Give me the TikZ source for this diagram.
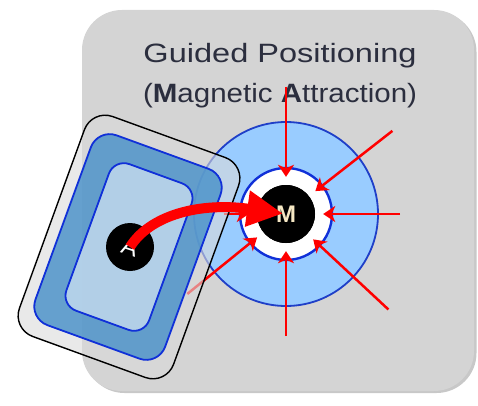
\documentclass[tikz,border=0pt]{standalone}
\usepackage{fontspec}
\setmainfont{Liberation Sans}
\usetikzlibrary{arrows.meta}
\definecolor{panelgray}{HTML}{D4D4D4}
\definecolor{shadowgray}{HTML}{9A9A9A}
\definecolor{zonefill}{HTML}{99CCFF}
\definecolor{zoneedge}{HTML}{1F3FC8}
\definecolor{ringedge}{HTML}{1030D8}
\definecolor{cardgray}{HTML}{DADADA}
\definecolor{cardmid}{HTML}{4E94CA}
\definecolor{cardin}{HTML}{C6DCEF}
\definecolor{titlecol}{HTML}{2B2E3E}
\definecolor{mcol}{HTML}{F6E8C4}
\tikzset{
  panel/.style={fill=panelgray, rounded corners=40pt, minimum width=392pt, minimum height=381pt, inner sep=0pt},
  zone/.style={circle, fill=zonefill, draw=zoneedge, line width=1.8pt, minimum size=184pt, inner sep=0pt},
  ringzone/.style={circle, fill=white, draw=ringedge, line width=2.4pt, minimum size=92pt, inner sep=0pt},
  magnetdot/.style={circle, fill=black, minimum size=58pt, inner sep=0pt, text=mcol, font=\fontsize{24}{24}\selectfont\bfseries},
  adot/.style={circle, fill=black, minimum size=48pt, inner sep=0pt, text=white, font=\fontsize{24}{24}\selectfont},
  cardouter/.style={draw=black, line width=1.4pt, fill=cardgray, fill opacity=0.6, rounded corners=22pt, minimum width=164pt, minimum height=234pt, rotate=-20, inner sep=0pt},
  cardmiddle/.style={draw=ringedge, line width=1.8pt, fill=cardmid, fill opacity=0.85, rounded corners=20pt, minimum width=138pt, minimum height=202pt, rotate=-20, inner sep=0pt},
  cardinner/.style={draw=ringedge, line width=1.8pt, fill=cardin, fill opacity=0.8, rounded corners=16pt, minimum width=88pt, minimum height=156pt, rotate=-20, inner sep=0pt},
  pull/.style={draw=red, line width=2.5pt, -{Stealth[length=12pt,width=16pt,inset=3.5pt]}, shorten >=8pt},
  bigpull/.style={draw=red, line width=10pt, -{Triangle[length=36pt,width=34pt]}, shorten >=3pt},
  titletext/.style={text=titlecol, font=\fontsize{26.5}{26.5}\selectfont, anchor=base, inner sep=0pt}
}
\begin{document}
\begin{tikzpicture}[x=1pt,y=1pt]
\useasboundingbox (0,0) rectangle (478,405);
% panel with soft shadow
\node[panel, fill=shadowgray, opacity=0.55] (panelshadow) at (280.5,202.5) {};
\node[panel] (panel) at (278,204.5) {};
% title
\node[titletext] (title1) at (280,342) {\resizebox{273pt}{\height}{Guided Positioning}};
\node[titletext] (title2) at (280,302) {\resizebox{274pt}{\height}{(\textbf{M}agnetic \textbf{A}ttraction)}};
% attraction zone
\node[zone] (zone) at (286,191) {};
\node[ringzone] (ring) at (286,191) {};
\coordinate (mc) at (286,191);
% arrow start points
\coordinate (p1) at ([shift={(90:127)}]mc);
\coordinate (p2) at ([shift={(38:135)}]mc);
\coordinate (p3) at ([shift={(0:114)}]mc);
\coordinate (p4) at ([shift={(-43:140)}]mc);
\coordinate (p5) at ([shift={(-90:122)}]mc);
\coordinate (p6) at ([shift={(-141:127)}]mc);
\coordinate (p7) at ([shift={(180:62)}]mc);
\node[magnetdot] (magnet) at (286,191) {M};
\draw[pull] (p1) -- (magnet);
\draw[pull] (p2) -- (magnet);
\draw[pull] (p3) -- (magnet);
\draw[pull] (p4) -- (magnet);
\draw[pull] (p5) -- (magnet);
\draw[pull] (p6) -- (magnet);
\draw[pull] (p7) -- (magnet);
\node[magnetdot] (magnettop) at (286,191) {M};
% card
\node[cardouter] (card) at (129,158) {};
\node[cardmiddle] (cardmid) at (128,158) {};
\node[cardinner] (cardin) at (129,158) {};
\node[adot] (adot) at (130,158) {\rotatebox{-18}{A}};
% big curved arrow
\draw[bigpull] (adot.center) .. controls (150,190) and (200,203) .. (magnet.center);
\end{tikzpicture}
\end{document}
